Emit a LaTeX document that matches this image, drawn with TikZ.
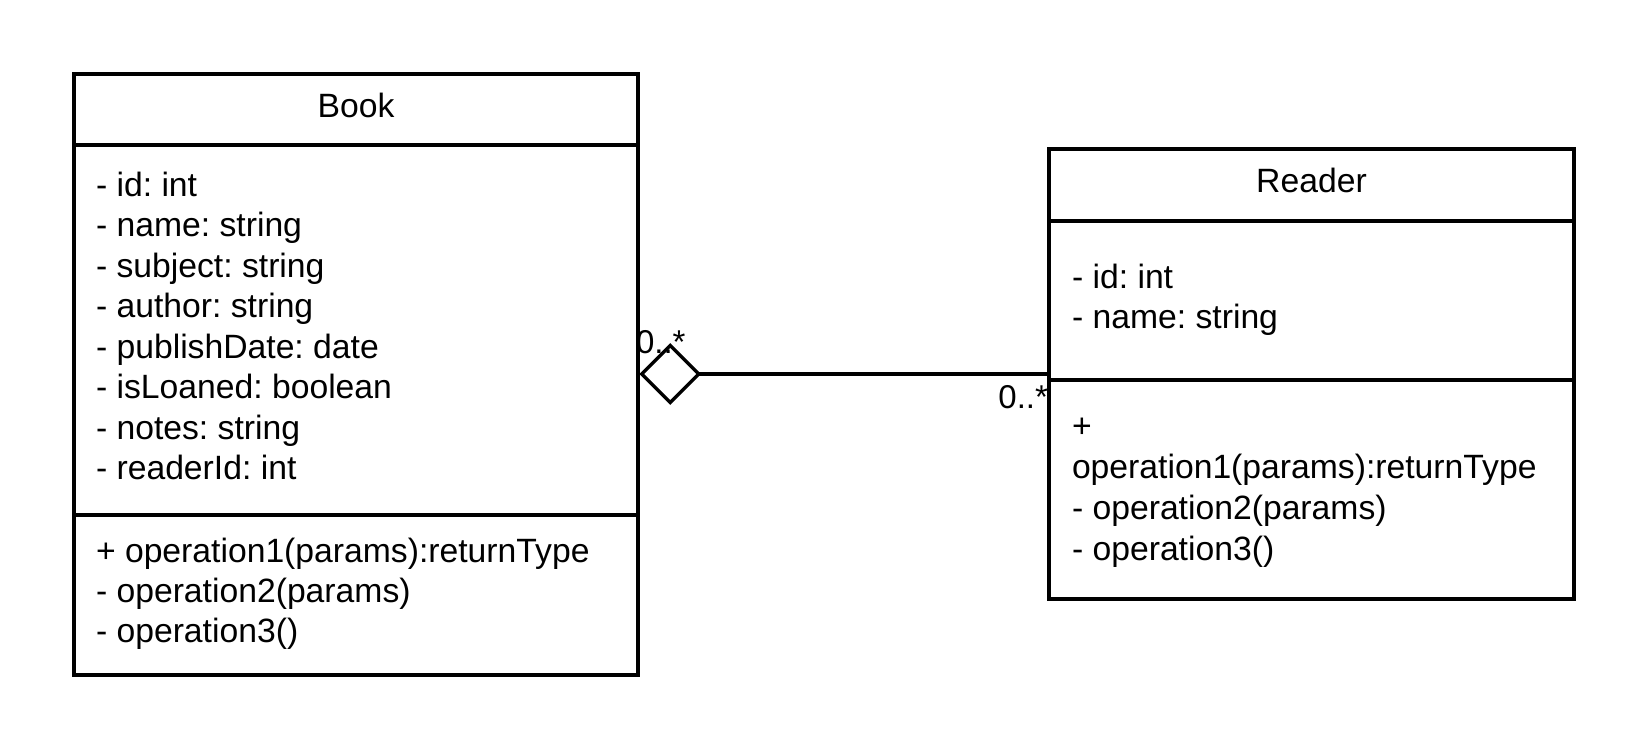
\documentclass[tikz,border=0pt]{standalone}
\usepackage{fontspec}
\setmainfont{Liberation Sans}
\frenchspacing
\usetikzlibrary{shapes.geometric}
\begin{document}
\begin{tikzpicture}[x=1pt,y=-1pt,
  every node/.style={font=\fontsize{33.7}{40.4}\selectfont\frenchspacing},
  box/.style={draw, line width=3.4pt, inner sep=0pt, outer sep=0pt, anchor=north west},
  txt/.style={anchor=base west, inner sep=0pt, outer sep=0pt},
  ttl/.style={anchor=base, inner sep=0pt, outer sep=0pt},
  mult/.style={font=\fontsize{33}{38}\selectfont, inner sep=0pt, outer sep=0pt},
  conn/.style={line width=3.4pt}]
\useasboundingbox (0,0) rectangle (1650,750);
% Book
\node[box, minimum width=564pt, minimum height=71pt] (bookhead) at (74,74) {};
\node[box, minimum width=564pt, minimum height=370pt] (bookattr) at (74,145) {};
\node[box, minimum width=564pt, minimum height=160pt] (bookops) at (74,515) {};
\node[ttl] (booktitle) at (356,117) {Book};
\foreach \t [count=\i from 0] in {- id: int, - name: string, - subject: string, - author: string, - publishDate: date, - isLoaned: boolean, - notes: string, - readerId: int}
  \node[txt] (ba\i) at (96,{196+40.5*\i}) {\t};
\foreach \t [count=\i from 0] in {+ operation1(params):returnType, - operation2(params), - operation3()}
  \node[txt] (bo\i) at (96,{562+40.4*\i}) {\t};
% Reader
\node[box, minimum width=525pt, minimum height=72pt] (readhead) at (1049,149) {};
\node[box, minimum width=525pt, minimum height=159pt] (readattr) at (1049,221) {};
\node[box, minimum width=525pt, minimum height=219pt] (readops) at (1049,380) {};
\node[ttl] (readtitle) at (1311.5,192) {Reader};
\node[txt] (ra0) at (1072,288) {- id: int};
\node[txt] (ra1) at (1072,328.4) {- name: string};
\foreach \t [count=\i from 0] in {+, operation1(params):returnType, - operation2(params), - operation3()}
  \node[txt] (ro\i) at (1072,{437+41*\i}) {\t};
% aggregation
\node[draw, diamond, line width=3.4pt, minimum width=57pt, minimum height=57pt, inner sep=0pt, outer sep=0pt, anchor=west, fill=white] (agg) at (641.7,374) {};
\draw[conn] (agg.east) -- (agg.east -| readattr.west);
\node[mult, anchor=base west] (m1) at (636,353) {0..*};
\node[mult, anchor=base east] (m2) at (1048,408) {0..*};
\end{tikzpicture}
\end{document}
